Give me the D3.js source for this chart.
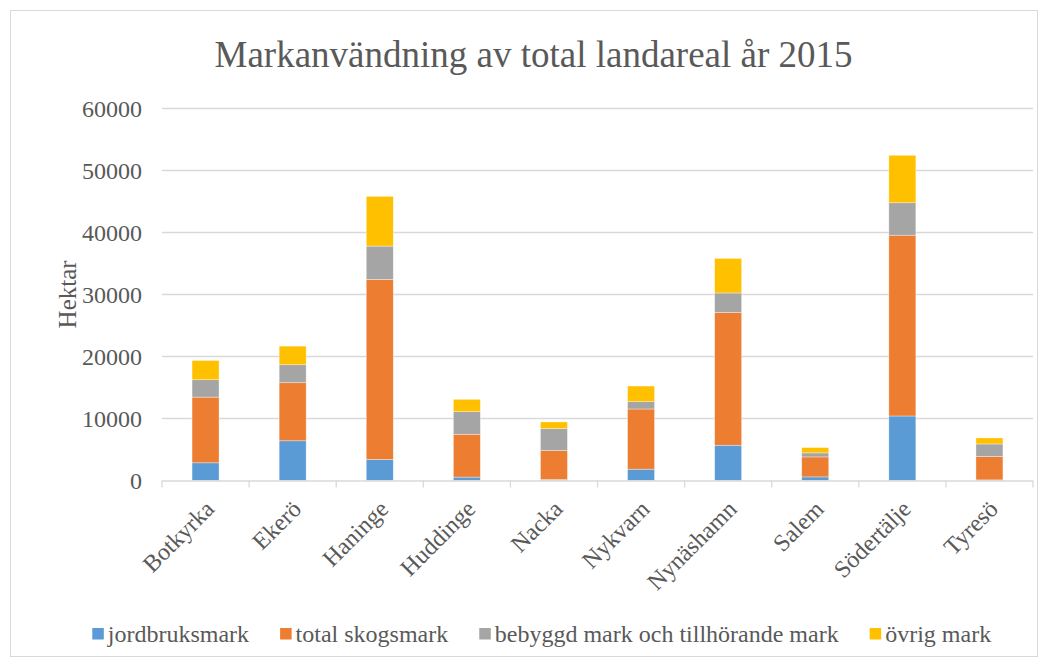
<!DOCTYPE html>
<html>
<head>
<meta charset="utf-8">
<script src="https://cdn.jsdelivr.net/npm/d3@7"></script>
<style>
  html, body { margin: 0; padding: 0; background: #fff; }
  svg { display: block; }
  text { font-family: "Liberation Serif", "Times New Roman", serif; fill: #595959; }
</style>
</head>
<body>
<svg id="chart" width="1048" height="665"></svg>
<script>
const categories = ["Botkyrka", "Ekerö", "Haninge", "Huddinge", "Nacka", "Nykvarn", "Nynäshamn", "Salem", "Södertälje", "Tyresö"];
const seriesNames = ["jordbruksmark", "total skogsmark", "bebyggd mark och tillhörande mark", "övrig mark"];
const jordbruksmark = [2850, 6400, 3390, 550, 160, 1830, 5690, 580, 10400, 100];
const skogsmark     = [10590, 9360, 29030, 6910, 4660, 9700, 21380, 3220, 29150, 3760];
const bebyggdMark   = [2800, 2900, 5370, 3630, 3540, 1170, 3160, 650, 5220, 2030];
const ovrigMark     = [3110, 3000, 8010, 2000, 1080, 2530, 5570, 860, 7660, 970];
const yTicks = [0, 10000, 20000, 30000, 40000, 50000, 60000];
const colors = ["#5B9BD5", "#ED7D31", "#A5A5A5", "#FFC000"];
const titleText = "Markanvändning av total landareal år 2015";
const yLabel = "Hektar";

const FONT = '"Liberation Serif", "Times New Roman", serif';
const seriesValues = [jordbruksmark, skogsmark, bebyggdMark, ovrigMark];
const rows = categories.map((c, i) => {
  const r = { cat: c };
  seriesNames.forEach((s, j) => r[s] = seriesValues[j][i]);
  return r;
});

const svg = d3.select("#chart");

// chart border
svg.append("rect")
  .attr("x", 10.5).attr("y", 10.5)
  .attr("width", 1027).attr("height", 646)
  .attr("fill", "#fff").attr("stroke", "#D9D9D9").attr("stroke-width", 1);

const plot = { left: 162, right: 1033, top: 108.3, bottom: 480.5 };

const x = d3.scaleBand().domain(categories).range([plot.left, plot.right]).paddingInner(0.69).paddingOuter(0.345);
const xb = d3.scaleBand().domain(categories).range([plot.left, plot.right]);
const y = d3.scaleLinear().domain([0, 60000]).range([plot.bottom, plot.top]);

// gridlines
svg.append("g").selectAll("line").data(yTicks.filter(t => t > 0)).join("line")
  .attr("x1", plot.left).attr("x2", plot.right)
  .attr("y1", d => Math.round(y(d)) + 0.5).attr("y2", d => Math.round(y(d)) + 0.5)
  .attr("stroke", "#D9D9D9").attr("stroke-width", 1.3);

// y axis labels
const yAxis = d3.axisLeft(y).tickValues(yTicks).tickSize(0).tickPadding(0).tickFormat(d3.format("d"));
const ya = svg.append("g").attr("transform", `translate(${142},0)`).call(yAxis)
  .attr("font-family", FONT).attr("font-size", 24);
ya.select(".domain").remove();
ya.selectAll("text").attr("font-size", 24).attr("fill", "#595959")
  .attr("font-family", FONT).attr("dy", "0.33em");

// stacked bars
const stack = d3.stack().keys(seriesNames);
const stacked = stack(rows);
svg.append("g").selectAll("g").data(stacked).join("g")
  .attr("fill", (d, i) => colors[i])
  .selectAll("rect").data(d => d).join("rect")
  .attr("x", d => x(d.data.cat))
  .attr("width", x.bandwidth())
  .attr("y", d => y(d[1]))
  .attr("height", d => y(d[0]) - y(d[1]))
  .attr("stroke", "#ffffff").attr("stroke-width", 0.6).attr("stroke-opacity", 0.6);

// x axis line and ticks
const xAxisG = svg.append("g");
xAxisG.append("line")
  .attr("x1", plot.left).attr("x2", plot.right)
  .attr("y1", plot.bottom + 0.5).attr("y2", plot.bottom + 0.5)
  .attr("stroke", "#D9D9D9").attr("stroke-width", 1.3);
const bounds = categories.map(c => xb(c)).concat([plot.right]);
xAxisG.selectAll("line.tick").data(bounds).join("line").attr("class", "tick")
  .attr("x1", d => d).attr("x2", d => d)
  .attr("y1", plot.bottom).attr("y2", plot.bottom + 7)
  .attr("stroke", "#D9D9D9").attr("stroke-width", 1.3);

// category labels rotated
xAxisG.selectAll("text.cat").data(categories).join("text").attr("class", "cat")
  .attr("font-size", 24).attr("font-family", FONT)
  .attr("text-anchor", "end")
  .attr("transform", d => `translate(${xb(d) + xb.bandwidth() / 2 + 10},${plot.bottom + 30}) rotate(-45)`)
  .text(d => d);

// title
svg.append("text")
  .attr("x", 533.5).attr("y", 66.5)
  .attr("text-anchor", "middle")
  .attr("font-size", 37).attr("font-family", FONT)
  .text(titleText);

// y axis title
svg.append("text")
  .attr("transform", `translate(76,${(plot.top + plot.bottom) / 2}) rotate(-90)`)
  .attr("text-anchor", "middle")
  .attr("font-size", 25).attr("font-family", FONT)
  .text(yLabel);

// legend
const legend = svg.append("g");
let lx = 92.3;
seriesNames.forEach((name, i) => {
  legend.append("rect")
    .attr("x", lx).attr("y", 628)
    .attr("width", 11.5).attr("height", 11.5)
    .attr("fill", colors[i]);
  const t = legend.append("text")
    .attr("x", lx + 15.5).attr("y", 641.7)
    .attr("font-size", 24).attr("font-family", FONT)
    .text(name);
  const w = t.node().getComputedTextLength();
  lx = lx + 15.5 + w + 31;
});
</script>
</body>
</html>
